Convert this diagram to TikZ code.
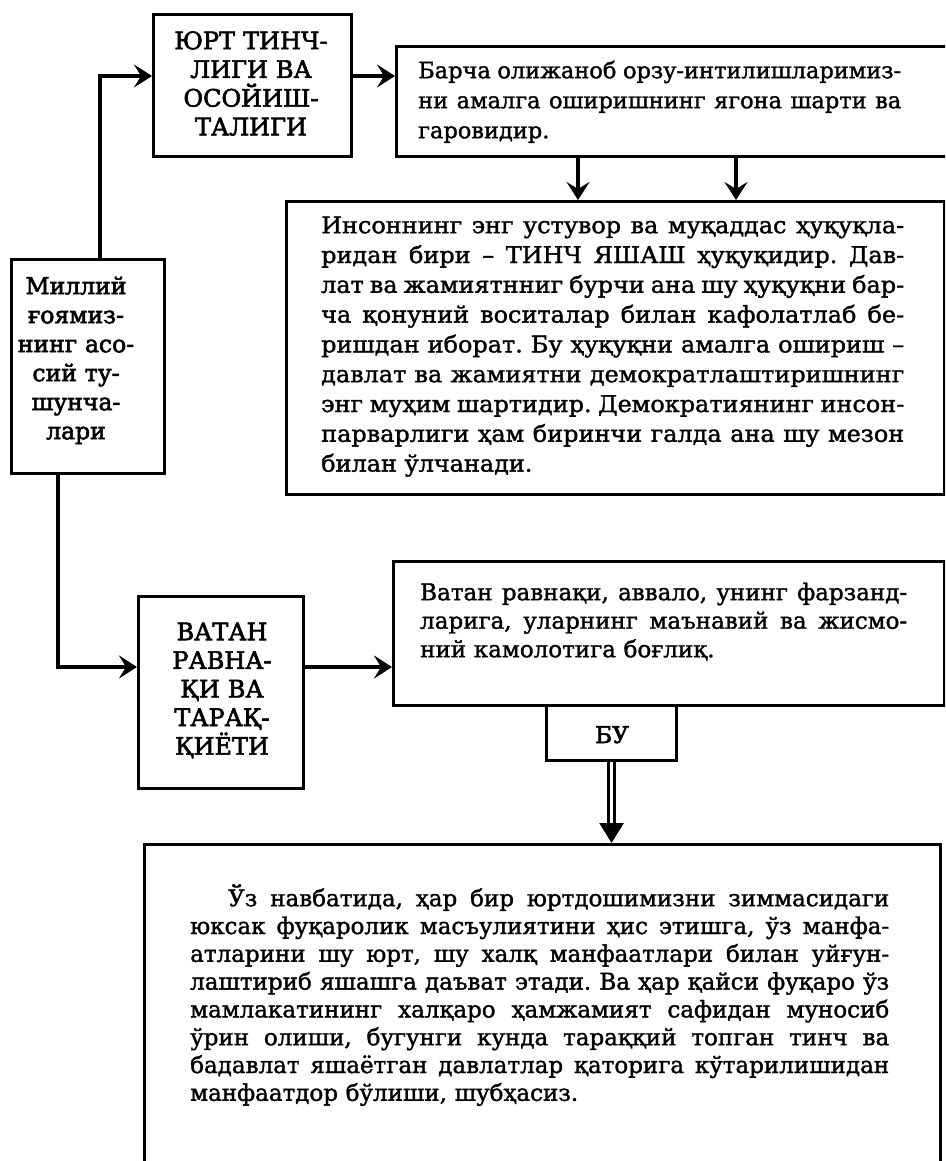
\documentclass[tikz,border=0pt]{standalone}
\usepackage{fontspec}
\setmainfont{DejaVu Serif}
\newfontfamily\bodyf{DejaVu Serif}[FakeBold=1.5]
\newfontfamily\bodyw{DejaVu Serif}[FakeBold=1.5,FakeStretch=1.04]
\newfontfamily\labf{DejaVu Serif}[FakeBold=2.5]
\usetikzlibrary{arrows.meta}
\newcommand\jl[1]{\makebox[\hsize][s]{\frenchspacing\spaceskip=0pt\relax\xspaceskip=0pt\relax #1}}
\newcommand\fst{\rule{0pt}{26pt}}
\tikzset{
  box/.style={draw, line width=3.1pt, inner sep=0pt, anchor=north west},
  bodytxt/.style={inner sep=0pt, anchor=north west},
  labtxt/.style={inner sep=0pt, anchor=north, align=center},
  conn/.style={line width=3.1pt, -{Stealth[length=18pt,width=23pt,inset=7pt]}},
  dconn/.style={line width=2.5pt, double distance=3.8pt, -{Triangle[length=20pt,width=24pt]}},
}
\begin{document}
\begin{tikzpicture}[x=1pt, y=-1pt]
\useasboundingbox (0,0) rectangle (945,1161);
\clip (0,0) rectangle (945,1161);
\fill[white] (0,0) rectangle (945,1161);

% boxes
\node[box, minimum width=198pt, minimum height=142pt] (A) at (152,13) {};
\node[box, minimum width=553pt, minimum height=110pt] (B) at (395,45) {};
\node[box, minimum width=658pt, minimum height=293pt] (C) at (285,200) {};
\node[box, minimum width=153pt, minimum height=214pt] (M) at (10,258) {};
\node[box, minimum width=165pt, minimum height=192pt] (D) at (137,595) {};
\node[box, minimum width=551pt, minimum height=144pt] (E) at (392,560) {};
\node[box, minimum width=130pt, minimum height=55pt] (BU) at (545,704) {};
\node[box, minimum width=796pt, minimum height=360pt] (F) at (143,843) {};

% labels
\node[labtxt, text width=200pt, font=\labf\fontsize{24}{28.7}\selectfont] (At) at (251,23)
  {\fst ЮРТ ТИНЧ-\\ЛИГИ ВА\\ОСОЙИШ-\\ТАЛИГИ};
\node[labtxt, text width=150pt, font=\labf\fontsize{23.5}{29}\selectfont] (Mt) at (76,268)
  {\fst Миллий\\ғоямиз-\\нинг асо-\\сий ту-\\шунча-\\лари};
\node[labtxt, text width=160pt, font=\labf\fontsize{24}{28.6}\selectfont] (Dt) at (222,614)
  {\fst ВАТАН\\РАВНА-\\ҚИ ВА\\ТАРАҚ-\\ҚИЁТИ};
\node[inner sep=0pt, anchor=base, font=\labf\fontsize{23}{28}\selectfont] (BUt) at (612,743) {БУ};

% body texts
\node[bodytxt, text width=483pt, font=\bodyf\fontsize{22.5}{30}\selectfont] (Bt) at (418,52)
  {\fst\jl{Барча олижаноб орзу-интилишларимиз-}\\
   \jl{ни амалга оширишнинг ягона шарти ва}\\
   гаровидир.};
\node[bodytxt, text width=583pt, font=\bodyw\fontsize{23}{29.8}\selectfont] (Ct) at (321,207)
  {\fst\jl{Инсоннинг энг устувор ва муқаддас ҳуқуқла-}\\
   \jl{ридан бири – ТИНЧ ЯШАШ ҳуқуқидир. Дав-}\\
   \jl{лат ва жамиятнниг бурчи ана шу ҳуқуқни бар-}\\
   \jl{ча қонуний воситалар билан кафолатлаб бе-}\\
   \jl{ришдан иборат. Бу ҳуқуқни амалга ошириш –}\\
   \jl{давлат ва жамиятни демократлаштиришнинг}\\
   \jl{энг муҳим шартидир. Демократиянинг инсон-}\\
   \jl{парварлиги ҳам биринчи галда ана шу мезон}\\
   билан ўлчанади.};
\node[bodytxt, text width=487pt, font=\bodyf\fontsize{23}{28.5}\selectfont] (Et) at (420,574)
  {\fst\jl{Ватан равнақи, аввало, унинг фарзанд-}\\
   \jl{ларига, уларнинг маънавий ва жисмо-}\\
   ний камолотига боғлиқ.};
\node[bodytxt, text width=699pt, font=\bodyf\fontsize{23}{27.8}\selectfont] (Ft) at (190,880)
  {\fst\jl{\hspace*{38pt}Ўз навбатида, ҳар бир юртдошимизни зиммасидаги}\\
   \jl{юксак фуқаролик масъулиятини ҳис этишга, ўз манфа-}\\
   \jl{атларини шу юрт, шу халқ манфаатлари билан уйғун-}\\
   \jl{лаштириб яшашга даъват этади. Ва ҳар қайси фуқаро ўз}\\
   \jl{мамлакатининг халқаро ҳамжамият сафидан муносиб}\\
   \jl{ўрин олиши, бугунги кунда тараққий топган тинч ва}\\
   \jl{бадавлат яшаётган давлатлар қаторига кўтарилишидан}\\
   манфаатдор бўлиши, шубҳасиз.};

% connectors
\draw[conn] (M.north -| 100,0) -- (100,76) -- (A.west |- 0,76);
\draw[conn] (A.east |- 0,76) -- (B.west |- 0,76);
\draw[conn] (B.south -| 578,0) -- (C.north -| 578,0);
\draw[conn] (B.south -| 736,0) -- (C.north -| 736,0);
\draw[conn] (M.south -| 58,0) -- (58,667) -- (D.west |- 0,667);
\draw[conn] (D.east |- 0,667) -- (E.west |- 0,667);
\draw[dconn] (BU.south) -- (F.north -| BU.south);
\end{tikzpicture}
\end{document}
